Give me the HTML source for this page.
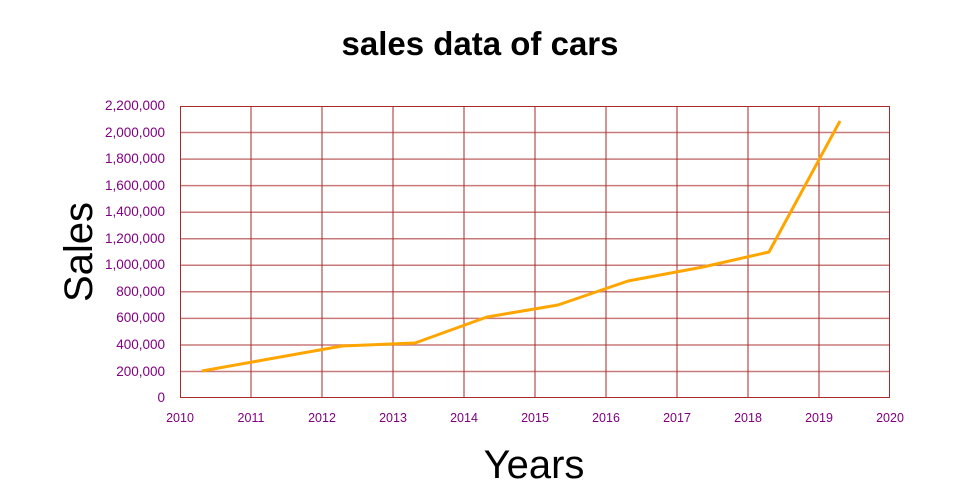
<!DOCTYPE html>
<html><head><meta charset="utf-8"><style>
html,body{margin:0;padding:0;background:#fff;}
svg{display:block;font-family:"Liberation Sans",sans-serif;}
</style></head><body>
<svg width="960" height="500" viewBox="0 0 960 500">
<rect width="960" height="500" fill="#fff"/>
<text x="480" y="55" text-anchor="middle" font-size="33" font-weight="bold" fill="#000">sales data of cars</text>
<g stroke="#c87a7a" stroke-width="1.5">
<line x1="180" x2="890" y1="371.5" y2="371.5"/>
<line x1="180" x2="890" y1="345" y2="345"/>
<line x1="180" x2="890" y1="318.4" y2="318.4"/>
<line x1="180" x2="890" y1="291.8" y2="291.8"/>
<line x1="180" x2="890" y1="265.3" y2="265.3"/>
<line x1="180" x2="890" y1="238.7" y2="238.7"/>
<line x1="180" x2="890" y1="212.2" y2="212.2"/>
<line x1="180" x2="890" y1="185.6" y2="185.6"/>
<line x1="180" x2="890" y1="159.1" y2="159.1"/>
<line x1="180" x2="890" y1="132.5" y2="132.5"/>
</g>
<g stroke="#aa2a2a" stroke-width="1">
<line x1="251" x2="251" y1="106" y2="398"/>
<line x1="322" x2="322" y1="106" y2="398"/>
<line x1="393" x2="393" y1="106" y2="398"/>
<line x1="464" x2="464" y1="106" y2="398"/>
<line x1="535" x2="535" y1="106" y2="398"/>
<line x1="606" x2="606" y1="106" y2="398"/>
<line x1="677" x2="677" y1="106" y2="398"/>
<line x1="748" x2="748" y1="106" y2="398"/>
<line x1="819" x2="819" y1="106" y2="398"/>
<rect x="180.5" y="106.5" width="709" height="291" fill="none"/>
</g>
<polyline fill="none" stroke="#ffa500" stroke-width="3" stroke-linejoin="round" points="202,371 269,359 342,346 415,343 487,317 558,305 628,281 703,267 769,252 840,121"/>
<g fill="#800080" font-size="13.5" text-anchor="end">
<text x="165" y="402">0</text>
<text x="165" y="376">200,000</text>
<text x="165" y="349">400,000</text>
<text x="165" y="322">600,000</text>
<text x="165" y="296">800,000</text>
<text x="165" y="269">1,000,000</text>
<text x="165" y="243">1,200,000</text>
<text x="165" y="216">1,400,000</text>
<text x="165" y="190">1,600,000</text>
<text x="165" y="163">1,800,000</text>
<text x="165" y="137">2,000,000</text>
<text x="165" y="110">2,200,000</text>
</g>
<g fill="#800080" font-size="12.5" text-anchor="middle">
<text x="180" y="422">2010</text><text x="251" y="422">2011</text><text x="322" y="422">2012</text>
<text x="393" y="422">2013</text><text x="464" y="422">2014</text><text x="535" y="422">2015</text>
<text x="606" y="422">2016</text><text x="677" y="422">2017</text><text x="748" y="422">2018</text>
<text x="819" y="422">2019</text><text x="890" y="422">2020</text>
</g>
<text x="534" y="478" text-anchor="middle" font-size="40" fill="#000">Years</text>
<text transform="translate(92,252) rotate(-90)" text-anchor="middle" font-size="40" fill="#000">Sales</text>
</svg>
</body></html>
